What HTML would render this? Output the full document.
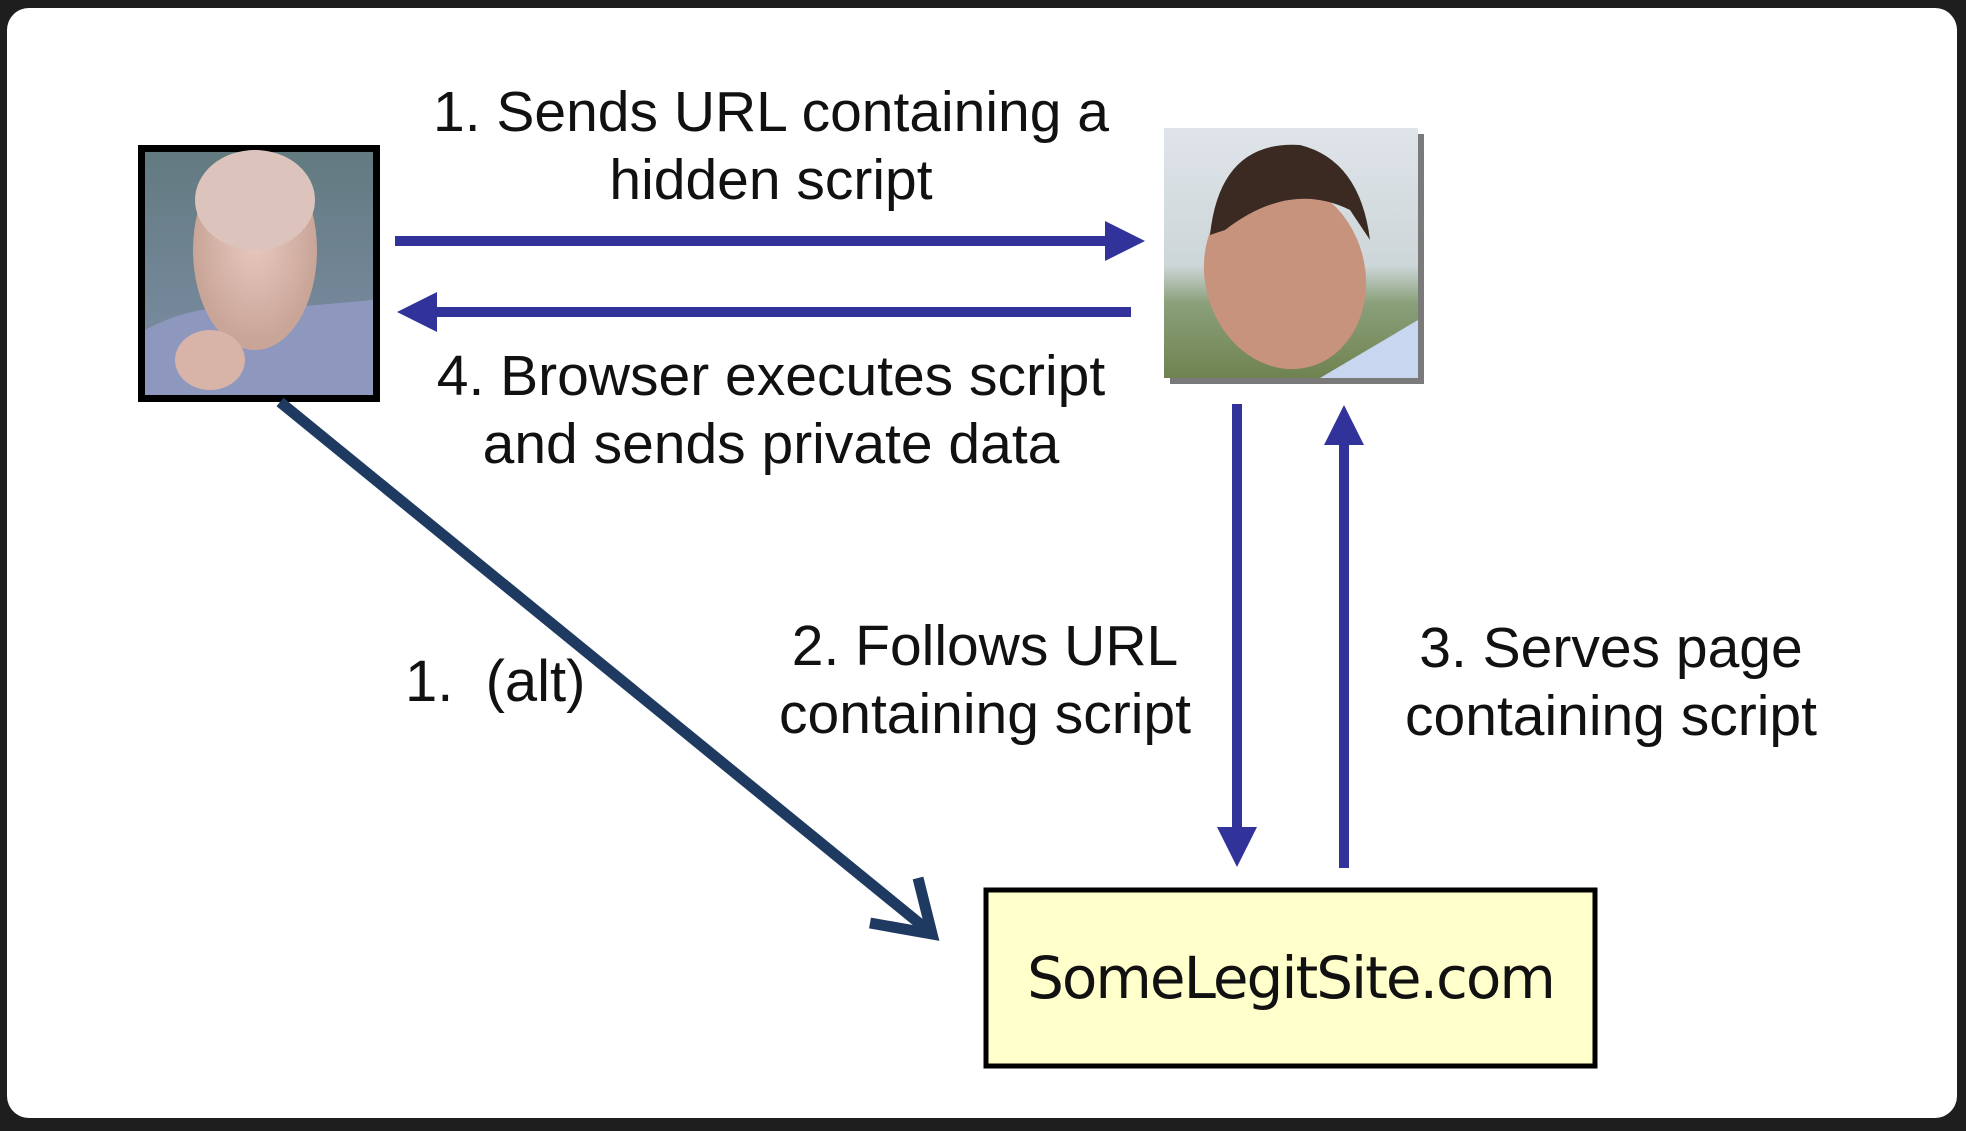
<!DOCTYPE html>
<html><head><meta charset="utf-8"><style>
html,body{margin:0;padding:0;background:#1e1e1e;}
body{width:1966px;height:1131px;position:relative;overflow:hidden;font-family:"Liberation Sans",Arial,sans-serif;}
.panel{position:absolute;left:7px;top:8px;width:1950px;height:1110px;background:#fff;border-radius:22px;}
.t{position:absolute;color:#111;font-size:57px;line-height:68px;text-align:center;white-space:nowrap;}
</style></head><body>
<div class="panel"></div>
<svg width="1966" height="1131" style="position:absolute;left:0;top:0">
<defs>
<linearGradient id="bg1" x1="0" y1="0" x2="0" y2="1"><stop offset="0" stop-color="#627a80"/><stop offset="1" stop-color="#7f8fa8"/></linearGradient>
<radialGradient id="face1" cx="0.5" cy="0.45" r="0.5"><stop offset="0" stop-color="#e8c9bf"/><stop offset="1" stop-color="#c9a598"/></radialGradient>
<linearGradient id="sky" x1="0" y1="0" x2="0" y2="1"><stop offset="0" stop-color="#dfe4ea"/><stop offset="0.55" stop-color="#cdd6d8"/><stop offset="0.7" stop-color="#8aa07a"/><stop offset="1" stop-color="#6f8250"/></linearGradient>
</defs>
<rect x="138" y="145" width="242" height="257" fill="#000"/>
<rect x="145" y="152" width="228" height="243" fill="url(#bg1)"/>
<path d="M145 330 Q200 300 260 310 L373 300 L373 395 L145 395Z" fill="#8e97bd"/>
<ellipse cx="255" cy="250" rx="62" ry="100" fill="url(#face1)"/>
<ellipse cx="255" cy="200" rx="60" ry="50" fill="#dcc4bd"/>
<ellipse cx="210" cy="360" rx="35" ry="30" fill="#d8b3a8"/>
<rect x="1170" y="134" width="254" height="250" fill="#222" opacity="0.6"/>
<rect x="1164" y="128" width="254" height="250" fill="url(#sky)"/>
<ellipse cx="1285" cy="275" rx="80" ry="95" fill="#c8937c" transform="rotate(-15 1285 275)"/>
<path d="M1210 235 Q1220 140 1300 145 Q1360 160 1370 240 L1350 210 Q1290 180 1225 230Z" fill="#3a2a22"/>
<path d="M1320 378 L1418 320 L1418 378Z" fill="#c8d6f0"/>
<g fill="#31339a" stroke="none">
<rect x="395" y="236" width="720" height="10"/>
<polygon points="1145,241 1105,221 1105,261"/>
<rect x="425" y="307" width="706" height="10"/>
<polygon points="397,312 437,292 437,332"/>
<rect x="1232" y="404" width="10" height="425"/>
<polygon points="1237,867 1217,827 1257,827"/>
<rect x="1339" y="445" width="10" height="423"/>
<polygon points="1344,405 1324,445 1364,445"/>
</g>
<line x1="280" y1="402" x2="930" y2="932" stroke="#1f3a60" stroke-width="11"/>
<polyline points="870,923 932,934 918,878" fill="none" stroke="#1f3a60" stroke-width="11" stroke-linejoin="miter"/>
<rect x="986" y="890" width="609" height="176" fill="#ffffcc" stroke="#000" stroke-width="5"/>
</svg>
<div class="t" style="left:371px;width:800px;top:78px">1. Sends URL containing a<br>hidden script</div>
<div class="t" style="left:371px;width:800px;top:342px">4. Browser executes script<br>and sends private data</div>
<div class="t" style="left:685px;width:600px;top:612px">2. Follows URL<br>containing script</div>
<div class="t" style="left:1311px;width:600px;top:614px">3. Serves page<br>containing script</div>
<div class="t" style="left:405px;top:648px;text-align:left;font-size:58px">1.&nbsp; (alt)</div>
<div class="t" style="left:986px;width:609px;top:944px;font-family:'DejaVu Sans',sans-serif;font-size:58px;letter-spacing:-2px">SomeLegitSite.com</div>
</body></html>
